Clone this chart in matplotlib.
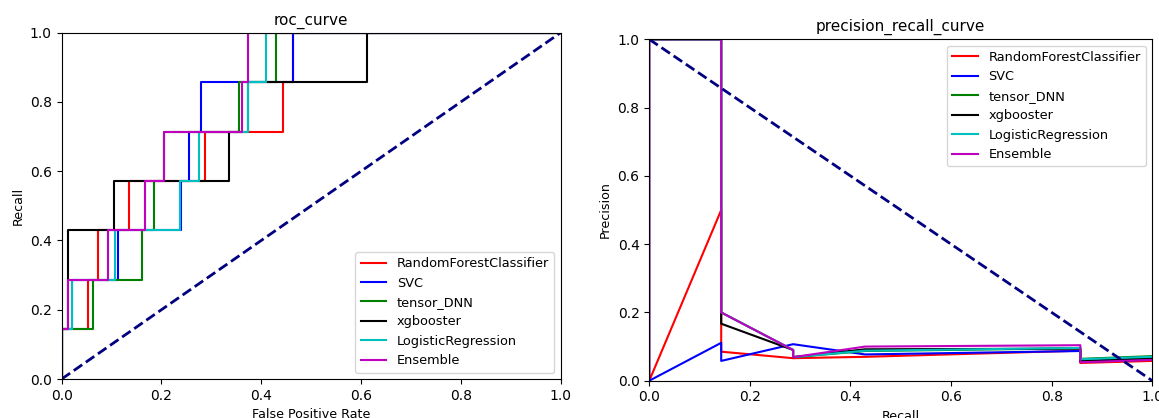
import matplotlib.pyplot as plt

# ===========================================================
# Données
# ===========================================================

models = ['RandomForestClassifier', 'SVC', 'tensor_DNN', 'xgbooster',
          'LogisticRegression', 'Ensemble']
colors = ['r', 'b', 'g', 'k', 'c', 'm']

# courbe ROC (taux de vrais positifs commun, 7 positifs)
tpr = [0, 0.143, 0.143, 0.286, 0.286, 0.429, 0.429, 0.571, 0.571,
       0.714, 0.714, 0.857, 0.857, 1.0, 1.0]
fpr_rf = [0, 0, 0.053, 0.053, 0.072, 0.072, 0.135, 0.135, 0.288, 0.288,
          0.443, 0.443, 0.463, 0.463, 1.0]
fpr_svc = [0, 0, 0.020, 0.020, 0.113, 0.113, 0.239, 0.239, 0.255, 0.255,
           0.279, 0.279, 0.463, 0.463, 1.0]
fpr_dnn = [0, 0, 0.062, 0.062, 0.162, 0.162, 0.186, 0.186, 0.205, 0.205,
           0.355, 0.355, 0.429, 0.429, 1.0]
fpr_xgb = [0, 0, 0.013, 0.013, 0.013, 0.013, 0.105, 0.105, 0.335, 0.335,
           0.374, 0.374, 0.611, 0.611, 1.0]
fpr_lr = [0, 0, 0.020, 0.020, 0.107, 0.107, 0.237, 0.237, 0.275, 0.275,
          0.374, 0.374, 0.409, 0.409, 1.0]
fpr_ens = [0, 0, 0.013, 0.013, 0.093, 0.093, 0.168, 0.168, 0.205, 0.205,
           0.362, 0.362, 0.374, 0.374, 1.0]

# courbe précision / rappel
rec_a = [0, 0, 0.143, 0.143, 0.286, 0.429, 0.857, 0.857, 1.0]
rec_b = [0, 0.143, 0.143, 0.286, 0.286, 0.429, 0.857, 0.857, 1.0]
prec_rf = [1.0, 0.0, 0.5, 0.085, 0.066, 0.070, 0.088, 0.052, 0.058]
prec_svc = [1.0, 0.0, 0.111, 0.058, 0.107, 0.077, 0.087, 0.055, 0.062]
prec_dnn = [1.0, 1.0, 0.2, 0.090, 0.069, 0.087, 0.095, 0.064, 0.072]
prec_xgb = [1.0, 1.0, 0.167, 0.090, 0.069, 0.092, 0.094, 0.058, 0.066]
prec_lr = [1.0, 1.0, 0.2, 0.090, 0.069, 0.088, 0.096, 0.063, 0.070]
prec_ens = [1.0, 1.0, 0.2, 0.090, 0.069, 0.100, 0.104, 0.054, 0.061]

roc_fprs = [fpr_rf, fpr_svc, fpr_dnn, fpr_xgb, fpr_lr, fpr_ens]
pr_recs = [rec_a, rec_a, rec_b, rec_b, rec_b, rec_b]
pr_precs = [prec_rf, prec_svc, prec_dnn, prec_xgb, prec_lr, prec_ens]

ticks = [0.0, 0.2, 0.4, 0.6, 0.8, 1.0]

# ===========================================================
# Figure
# ===========================================================

fig = plt.figure(figsize=(11.59, 4.18), dpi=100)
ax1 = fig.add_axes([0.0532, 0.0933, 0.4305, 0.8285])
ax2 = fig.add_axes([0.5602, 0.0892, 0.4340, 0.8167])

# ROC
for name, c, f in zip(models, colors, roc_fprs):
    ax1.plot(f, tpr, color=c, lw=1.5, label=name)
ax1.plot([0, 1], [0, 1], color='navy', lw=2, linestyle='--')
ax1.set_xlim(0, 1)
ax1.set_ylim(0, 1)
ax1.set_xticks(ticks)
ax1.set_yticks(ticks)
ax1.set_xlabel('False Positive Rate', fontsize=9.1)
ax1.set_ylabel('Recall', fontsize=9.1)
ax1.set_title('roc_curve', fontsize=11)
ax1.legend(loc='lower right', fontsize=9.3)

# Précision / rappel
for name, c, r, p in zip(models, colors, pr_recs, pr_precs):
    ax2.plot(r, p, color=c, lw=1.5, label=name)
ax2.plot([0, 1], [1, 0], color='navy', lw=2, linestyle='--')
ax2.set_xlim(0, 1)
ax2.set_ylim(0, 1)
ax2.set_xticks(ticks)
ax2.set_yticks(ticks)
ax2.set_xlabel('Recall', fontsize=9.1)
ax2.set_ylabel('Precision', fontsize=9.1)
ax2.set_title('precision_recall_curve', fontsize=11)
ax2.legend(loc='upper right', fontsize=9.3)

fig.savefig('out.png', dpi=100)
